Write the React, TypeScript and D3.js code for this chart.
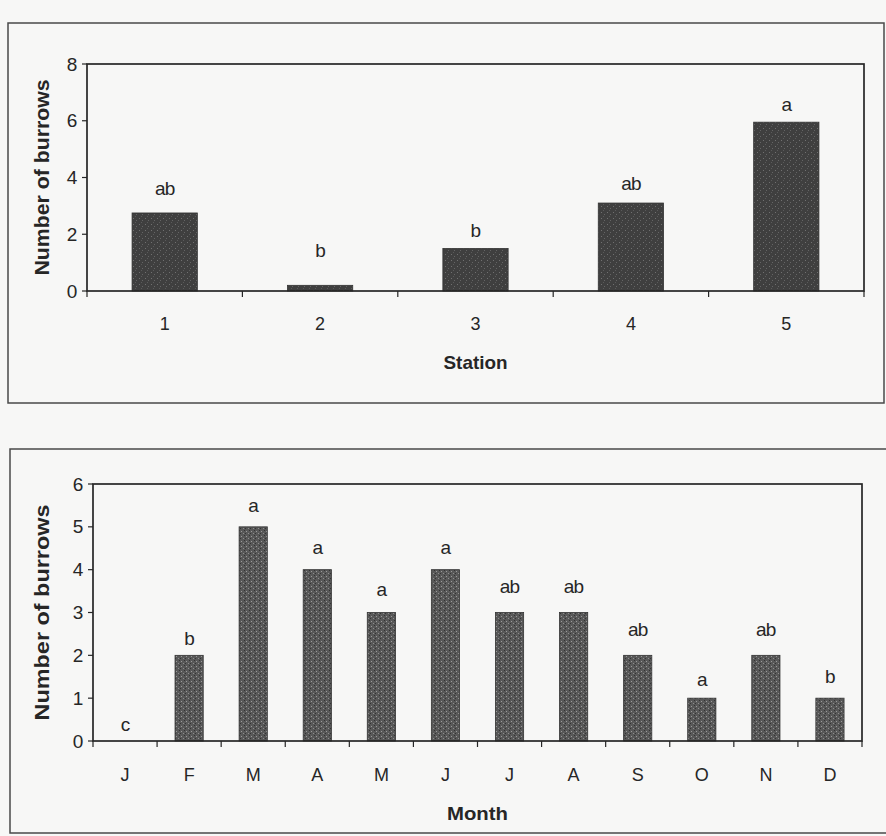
import React from "react";
import * as d3 from "d3";

const stations = ["1", "2", "3", "4", "5"];
const stationValues = [2.75, 0.2, 1.5, 3.1, 5.95];
const stationLetters = ["ab", "b", "b", "ab", "a"];
const stationLetterY = [3.63, 1.44, 2.15, 3.8, 6.58];
const stationTicks = [0, 2, 4, 6, 8];

const months = ["J", "F", "M", "A", "M", "J", "J", "A", "S", "O", "N", "D"];
const monthValues = [0, 2, 5, 4, 3, 4, 3, 3, 2, 1, 2, 1];
const monthLetters = ["c", "b", "a", "a", "a", "a", "ab", "ab", "ab", "a", "ab", "b"];
const monthLetterY = [0.4, 2.4, 5.5, 4.53, 3.55, 4.53, 3.6, 3.6, 2.6, 1.45, 2.6, 1.5];
const monthTicks = [0, 1, 2, 3, 4, 5, 6];

const FONT = "'Liberation Sans', Arial, sans-serif";
const INK = "#262626";

type PanelProps = {
  cats: string[];
  values: number[];
  letters: string[];
  letterY: number[];
  ticks: number[];
  left: number; right: number; top: number; bottom: number;
  padding: number;
  fill: string;
  xTitle: string;
  xTitleLen: number;
  yTitleLen: number;
  tickLabelY: number;
  xTitleY: number;
};

function Panel(p: PanelProps) {
  const x = d3.scaleBand<number>().domain(p.cats.map((_, i) => i)).range([p.left, p.right]).paddingInner(p.padding).paddingOuter(p.padding / 2);
  const xb = d3.scaleBand<number>().domain(p.cats.map((_, i) => i)).range([p.left, p.right]);
  const ymax = p.ticks[p.ticks.length - 1];
  const y = d3.scaleLinear().domain([0, ymax]).range([p.bottom, p.top]);
  const boundaries = p.cats.map((_, i) => xb(i) as number).concat([p.right]);
  return (
    <g>
      {p.values.map((v, i) => (
        <rect key={"b" + i} x={x(i)} y={y(v)} width={x.bandwidth()} height={p.bottom - y(v)} fill={p.fill} stroke="#333" strokeWidth={0.8} />
      ))}
      <rect x={p.left} y={p.top} width={p.right - p.left} height={p.bottom - p.top} fill="none" stroke={INK} strokeWidth={1.7} />
      {p.ticks.map((t) => (
        <g key={"yt" + t}>
          <line x1={p.left - 5} x2={p.left} y1={y(t)} y2={y(t)} stroke={INK} strokeWidth={1.2} />
          <text x={p.left - 15} y={y(t)} dy="0.35em" textAnchor="middle" fontSize={19} fontFamily={FONT} fill={INK}>{t}</text>
        </g>
      ))}
      {boundaries.map((bx, i) => (
        <line key={"xt" + i} x1={bx} x2={bx} y1={p.bottom} y2={p.bottom + 6} stroke={INK} strokeWidth={1.2} />
      ))}
      {p.cats.map((c, i) => (
        <text key={"xl" + i} x={(xb(i) as number) + xb.bandwidth() / 2} y={p.tickLabelY} dy="0.35em" textAnchor="middle" fontSize={18} fontFamily={FONT} fill={INK}>{c}</text>
      ))}
      {p.letters.map((l, i) => (
        <text key={"l" + i} x={(xb(i) as number) + xb.bandwidth() / 2} y={y(p.letterY[i])} dy="0.35em" textAnchor="middle" fontSize={19} fontFamily={FONT} fill={INK} letterSpacing={-0.8}>{l}</text>
      ))}
      <text x={(p.left + p.right) / 2} y={p.xTitleY} dy="0.35em" textAnchor="middle" fontSize={19} fontWeight="bold" fontFamily={FONT} fill={INK} textLength={p.xTitleLen} lengthAdjust="spacingAndGlyphs">{p.xTitle}</text>
      <text transform={`translate(42,${(p.top + p.bottom) / 2}) rotate(-90)`} dy="0.35em" textAnchor="middle" fontSize={20} fontWeight="bold" fontFamily={FONT} fill={INK} textLength={p.yTitleLen} lengthAdjust="spacingAndGlyphs">Number of burrows</text>
    </g>
  );
}

export default function App() {
  return (
    <svg width={886} height={836} style={{ position: "absolute", left: 0, top: 0, background: "#f7f7f6" }}>
      <defs>
        <pattern id="speckTop" width={6} height={6} patternUnits="userSpaceOnUse">
          <rect width={6} height={6} fill="#3f3f3f" />
          <rect x={1} y={2} width={1} height={1} fill="#707070" />
          <rect x={4} y={4} width={1} height={1} fill="#656565" />
          <rect x={3} y={0} width={1} height={1} fill="#5a5a5a" />
        </pattern>
        <pattern id="speckBot" width={5} height={5} patternUnits="userSpaceOnUse">
          <rect width={5} height={5} fill="#585858" />
          <rect x={1} y={1} width={1} height={1} fill="#9a9a9a" />
          <rect x={3} y={3} width={1} height={1} fill="#8d8d8d" />
          <rect x={4} y={0} width={1} height={1} fill="#333" />
          <rect x={0} y={3} width={1} height={1} fill="#333" />
        </pattern>
      </defs>
      <path d="M8,23 L884,23 L884,403 L8,403 Z" fill="none" stroke="#4a4a4a" strokeWidth={1.5} />
      <path d="M886,449 L10,449 L10,833 L886,833" fill="none" stroke="#4a4a4a" strokeWidth={1.5} />
      <Panel
        cats={stations} values={stationValues} letters={stationLetters} letterY={stationLetterY} ticks={stationTicks}
        left={87} right={864} top={64} bottom={291} padding={0.58} fill="url(#speckTop)"
        xTitle="Station" xTitleLen={64} yTitleLen={196} tickLabelY={324} xTitleY={362}
      />
      <Panel
        cats={months} values={monthValues} letters={monthLetters} letterY={monthLetterY} ticks={monthTicks}
        left={93} right={862} top={484} bottom={741} padding={0.56} fill="url(#speckBot)"
        xTitle="Month" xTitleLen={61} yTitleLen={216} tickLabelY={775} xTitleY={813}
      />
    </svg>
  );
}
